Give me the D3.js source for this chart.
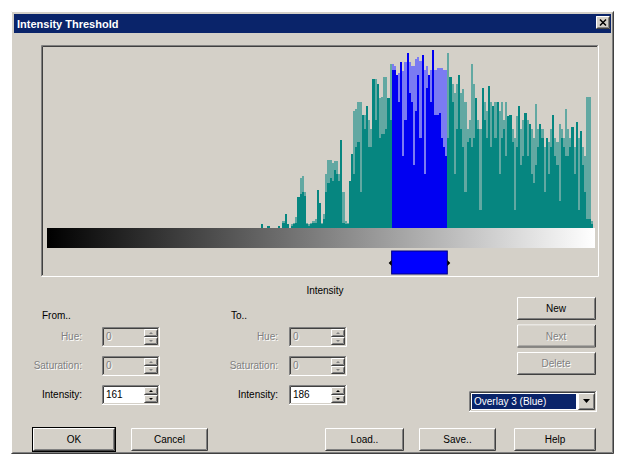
<!DOCTYPE html>
<html><head><meta charset="utf-8">
<script src="https://cdn.jsdelivr.net/npm/d3@7"></script>
<style>
body{margin:0;background:#fff}
svg text{font-family:"Liberation Sans",Arial,sans-serif;font-size:10px}
</style></head><body>
<svg id="dlg" width="619" height="459"></svg>
<script>
// histogram bins 100..255, two layers per bin (light column + dark column)
const firstBin = 100;
const lightCounts = [
  2,0,0,1,0,0,0,0,1,0,
  4,8,2,0,2,3,6,17,28,29,
  20,3,2,3,4,5,21,14,3,8,
  30,38,38,36,37,37,30,49,20,4,
  3,26,41,65,66,70,70,63,63,68,
  60,55,83,83,80,72,73,84,84,72,
  91,91,90,85,86,92,87,92,97,92,
  90,90,94,95,93,96,88,90,85,88,
  99,88,89,89,89,88,88,97,84,80,
  75,80,85,75,77,70,55,60,91,80,
  72,60,55,78,70,65,79,70,68,70,
  70,65,70,60,70,62,63,55,50,62,
  68,55,60,64,60,58,55,50,69,55,
  58,55,45,50,48,55,63,50,48,58,
  55,50,66,55,50,56,45,59,50,54,
  45,40,73,73,4,0
];
const darkCounts = [
  2,0,0,1,0,0,0,0,1,0,
  3,8,2,0,1,2,3,17,19,20,
  18,2,1,2,3,3,21,14,2,5,
  20,25,28,26,32,30,26,49,3,2,
  2,26,41,30,45,48,20,63,55,68,
  45,45,83,60,80,50,52,52,55,72,
  60,88,88,85,70,92,40,60,97,75,
  70,35,65,85,50,96,30,78,85,70,
  99,63,63,64,50,45,40,50,84,70,
  30,55,85,55,45,20,48,50,45,50,
  72,55,10,78,60,50,79,45,68,50,
  70,30,50,55,40,62,63,48,10,45,
  68,35,40,64,40,58,30,25,35,45,
  58,50,20,50,30,45,63,40,35,15,
  50,45,40,40,45,56,30,59,10,54,
  35,20,5,5,2,0
];
const selFrom = 161, selTo = 186;

const rowLabels = ["Hue:", "Saturation:", "Intensity:"];
const fromValues = ["0", "0", "161"];
const toValues = ["0", "0", "186"];
const rowEnabled = [false, false, true];
const sideButtons = [{t: "New", on: true}, {t: "Next", on: false}, {t: "Delete", on: false}];
const bottomButtons = [
  {t: "OK", x: 33, w: 82, def: true},
  {t: "Cancel", x: 131, w: 77},
  {t: "Load..", x: 325, w: 79},
  {t: "Save..", x: 419, w: 77},
  {t: "Help", x: 514, w: 82}
];
const overlayName = "Overlay 3 (Blue)";

const BG = "#d4d0c8";
const svg = d3.select("#dlg");

function bevel(g, x, y, w, h, raised, fill) {
  g.append("rect").attr("x", x).attr("y", y).attr("width", w).attr("height", h).attr("fill", fill || BG);
  const c = raised ? ["#fff", "#404040", BG, "#808080"] : ["#808080", "#fff", "#404040", BG];
  const tl = (o) => `M${x + o + 0.5},${y + h - o - 1}V${y + o + 0.5}H${x + w - o - 1}`;
  const br = (o) => `M${x + o + 0.5},${y + h - o - 0.5}H${x + w - o - 0.5}V${y + o + 0.5}`;
  g.append("path").attr("d", tl(0)).attr("stroke", c[0]).attr("fill", "none");
  g.append("path").attr("d", br(0)).attr("stroke", c[1]).attr("fill", "none");
  g.append("path").attr("d", tl(1)).attr("stroke", c[2]).attr("fill", "none");
  g.append("path").attr("d", br(1)).attr("stroke", c[3]).attr("fill", "none");
}

function label(g, x, y, t, enabled, anchor, weight) {
  if (!enabled) {
    g.append("text").attr("x", x + 1).attr("y", y + 1).attr("fill", "#fff")
      .attr("text-anchor", anchor || "start").text(t);
  }
  g.append("text").attr("x", x).attr("y", y).attr("fill", enabled ? "#000" : "#808080")
    .attr("text-anchor", anchor || "start").attr("font-weight", weight || null).text(t);
}

// window body and title bar
bevel(svg, 11, 11, 603, 443, true);
svg.append("rect").attr("x", 14).attr("y", 14).attr("width", 597).attr("height", 19).attr("fill", "#0a246a");
svg.append("text").attr("x", 17).attr("y", 28).attr("fill", "#fff").attr("font-weight", "bold")
  .style("font-size", "11px").text("Intensity Threshold");
bevel(svg, 596, 16, 14, 13, true);
svg.append("path").attr("d", "M600,19.5L606,25.5M606,19.5L600,25.5").attr("stroke", "#000").attr("stroke-width", 1.5);

// histogram frame
bevel(svg, 41, 45, 558, 232, false);

const x = d3.scaleLinear().domain([0, 256]).range([47, 595]);
const y = d3.scaleLinear().domain([0, 100]).range([228, 48]);
const bw = x(1) - x(0);
const inSel = (b) => b >= selFrom && b <= selTo;

const bins = lightCounts.map((v, i) => ({bin: firstBin + i, light: v, dark: darkCounts[i]}));
const hist = svg.append("g").attr("shape-rendering", "crispEdges");
hist.selectAll("rect.l").data(bins).join("rect").attr("class", "l")
  .attr("x", d => x(d.bin)).attr("width", bw)
  .attr("y", d => y(d.light)).attr("height", d => y(0) - y(d.light))
  .attr("fill", d => inSel(d.bin) ? "#7b7bf2" : "#62a8a2");
hist.selectAll("rect.d").data(bins).join("rect").attr("class", "d")
  .attr("x", d => x(d.bin)).attr("width", bw)
  .attr("y", d => y(d.dark)).attr("height", d => y(0) - y(d.dark))
  .attr("fill", d => inSel(d.bin) ? "#0000f2" : "#068680");

// intensity gradient bar
const grad = svg.append("defs").append("linearGradient").attr("id", "gray");
grad.append("stop").attr("offset", "0%").attr("stop-color", "#000");
grad.append("stop").attr("offset", "100%").attr("stop-color", "#fff");
svg.append("rect").attr("x", x(0)).attr("y", 228).attr("width", x(256) - x(0)).attr("height", 20)
  .attr("fill", "url(#gray)");

// threshold marker
const mx0 = x(selFrom), mx1 = x(selTo + 1);
svg.append("rect").attr("x", mx0).attr("y", 251).attr("width", mx1 - mx0).attr("height", 23)
  .attr("fill", "#0000ff").attr("stroke", "#000080");
svg.append("path").attr("d", `M${mx0},260L${mx0 - 3},263L${mx0},266Z M${mx1},260L${mx1 + 3},263L${mx1},266Z`)
  .attr("fill", "#000");

svg.append("text").attr("x", 325).attr("y", 294).attr("text-anchor", "middle").text("Intensity");

// From / To groups
function fieldGroup(title, tx, lx, bx, values) {
  const g = svg.append("g");
  label(g, tx, 319, title, true);
  rowLabels.forEach((t, i) => {
    const ry = 327 + i * 29;
    label(g, lx, ry + 13, t, rowEnabled[i], "end");
    bevel(g, bx, ry, 58, 20, false, rowEnabled[i] ? "#fff" : BG);
    label(g, bx + 4, ry + 13, values[i], rowEnabled[i]);
    // spinner
    [0, 1].forEach(k => {
      const sy = ry + 2 + k * 8;
      bevel(g, bx + 42, sy, 14, 8, true);
      const cx = bx + 49, cy = sy + 4;
      g.append("path").attr("d", k === 0 ? `M${cx - 2},${cy + 1}L${cx + 2},${cy + 1}L${cx},${cy - 1}Z`
                                           : `M${cx - 2},${cy - 1}L${cx + 2},${cy - 1}L${cx},${cy + 1}Z`)
        .attr("fill", rowEnabled[i] ? "#000" : "#808080");
    });
  });
}
fieldGroup("From..", 42, 82, 102, fromValues);
fieldGroup("To..", 231, 278, 289, toValues);

// side buttons
sideButtons.forEach((b, i) => {
  const by = 297 + i * 27.5;
  bevel(svg, 517, by, 79, 23, true);
  label(svg, 556, by + 15, b.t, b.on, "middle");
});

// overlay dropdown
bevel(svg, 469, 391, 128, 21, false, "#fff");
svg.append("rect").attr("x", 472).attr("y", 394).attr("width", 104).attr("height", 15).attr("fill", "#0a246a");
svg.append("text").attr("x", 474).attr("y", 405).attr("fill", "#fff").text(overlayName);
bevel(svg, 578, 393, 17, 17, true);
svg.append("path").attr("d", "M583,399L590,399L586.5,403Z").attr("fill", "#000");

// bottom buttons
bottomButtons.forEach(b => {
  if (b.def) {
    svg.append("rect").attr("x", b.x - 0.5).attr("y", 427.5).attr("width", b.w + 1).attr("height", 24)
      .attr("fill", "none").attr("stroke", "#000");
    bevel(svg, b.x, 428, b.w, 23, true);
  } else {
    bevel(svg, b.x, 428, b.w, 23, true);
  }
  svg.append("text").attr("x", b.x + b.w / 2).attr("y", 443).attr("text-anchor", "middle").text(b.t);
});
</script>
</body></html>
